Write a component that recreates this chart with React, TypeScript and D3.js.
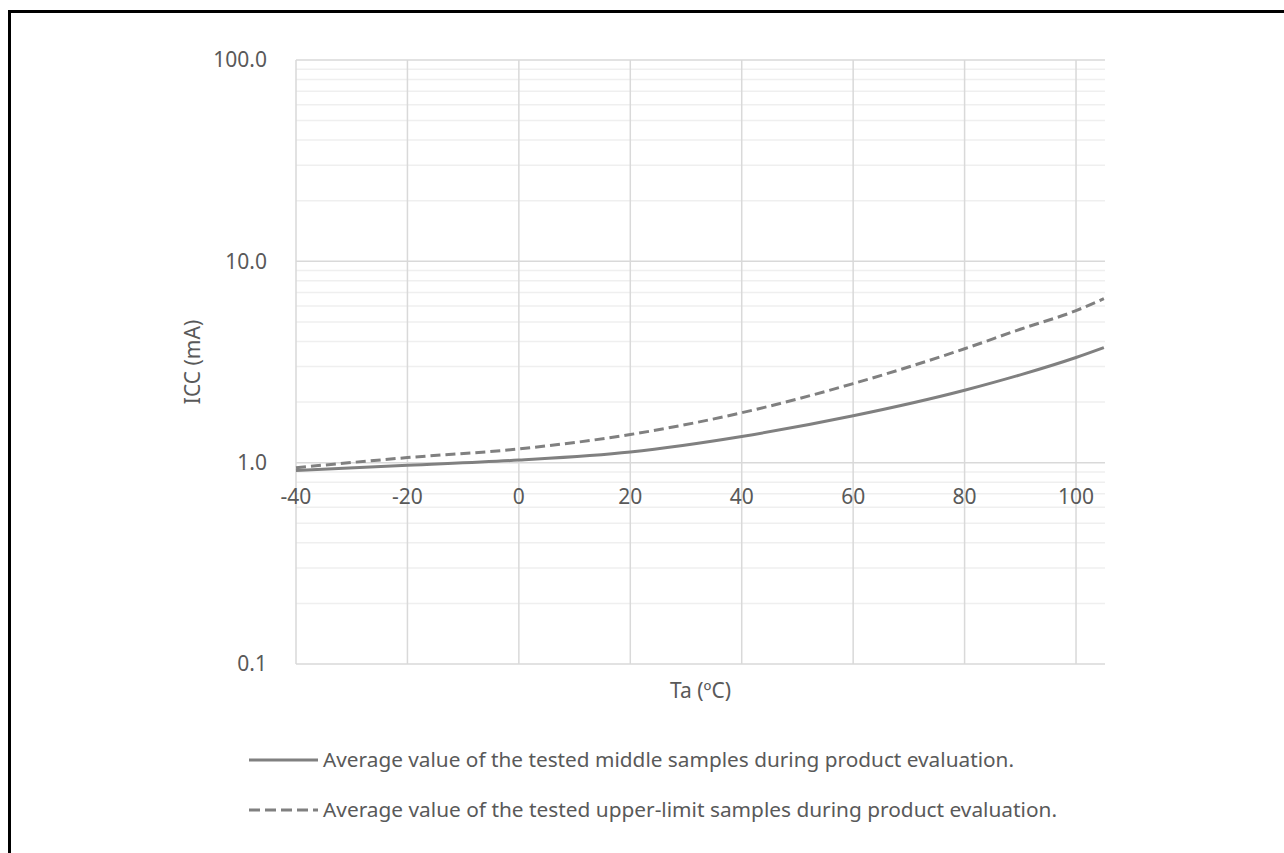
import React from "react";
import * as d3 from "d3";

const temps = [-40, -20, 0, 20, 40, 60, 80, 90, 100, 105];
const middleValues = [0.915, 0.97, 1.03, 1.13, 1.35, 1.71, 2.29, 2.73, 3.33, 3.73];
const upperValues = [0.944, 1.06, 1.17, 1.38, 1.77, 2.47, 3.68, 4.6, 5.69, 6.53];
const xTicks = [-40, -20, 0, 20, 40, 60, 80, 100];
const yMajor = [0.1, 1, 10, 100];
const yTickLabels = ["0.1", "1.0", "10.0", "100.0"];
const legendLabels = [
  "Average value of the tested middle samples during product evaluation.",
  "Average value of the tested upper-limit samples during product evaluation.",
];

const W = 1284;
const H = 853;
const M = { left: 296, right: 1105, top: 60, bottom: 664 };
const FONT = "'Noto Sans', sans-serif";
const TXT = "#595959";
const LINE = "#808080";

export default function App() {
  const x = d3.scaleLinear().domain([-40, 105.2]).range([M.left, M.right]);
  const y = d3.scaleLog().domain([0.1, 100]).range([M.bottom, M.top]);

  const minor: number[] = [];
  for (let d = 0.1; d < 100; d *= 10) {
    for (let k = 2; k <= 9; k++) minor.push(+(d * k).toFixed(3));
  }

  const line = d3
    .line<number>()
    .x((_, i) => x(temps[i]))
    .y((v) => y(v))
    .curve(d3.curveMonotoneX);

  return (
    <svg
      width={W}
      height={H}
      style={{ position: "absolute", left: 0, top: 0, background: "#fff" }}
    >
      <rect x={0} y={0} width={W} height={H} fill="#fff" />
      <rect x={9.5} y={11.5} width={1400} height={1000} fill="none" stroke="#000" strokeWidth={3} />

      {minor.map((v) => (
        <line key={"m" + v} x1={M.left} x2={M.right} y1={y(v)} y2={y(v)} stroke="#efefef" strokeWidth={1.5} />
      ))}
      {yMajor.map((v) => (
        <line key={"M" + v} x1={M.left} x2={M.right} y1={y(v)} y2={y(v)} stroke="#d9d9d9" strokeWidth={1.5} />
      ))}
      {xTicks.map((t) => (
        <line key={"v" + t} x1={x(t)} x2={x(t)} y1={M.top} y2={M.bottom} stroke="#d9d9d9" strokeWidth={1.5} />
      ))}

      {yMajor.map((v, i) => (
        <text
          key={"yl" + v}
          x={267}
          y={y(v)}
          dy="0.35em"
          textAnchor="end"
          fontFamily={FONT}
          fontSize={21}
          fill={TXT}
        >
          {yTickLabels[i]}
        </text>
      ))}
      {xTicks.map((t) => (
        <text
          key={"xl" + t}
          x={x(t)}
          y={504}
          textAnchor="middle"
          fontFamily={FONT}
          fontSize={21}
          fill={TXT}
        >
          {t}
        </text>
      ))}

      <text
        x={(M.left + M.right) / 2}
        y={698}
        textAnchor="middle"
        fontFamily={FONT}
        fontSize={21}
        fill={TXT}
      >
        Ta (ºC)
      </text>
      <text
        transform={`translate(200,362) rotate(-90)`}
        textAnchor="middle"
        fontFamily={FONT}
        fontSize={21}
        fill={TXT}
      >
        ICC (mA)
      </text>

      <path d={line(middleValues) || ""} fill="none" stroke={LINE} strokeWidth={3} />
      <path d={line(upperValues) || ""} fill="none" stroke={LINE} strokeWidth={3} strokeDasharray="10,5" />

      <line x1={249} x2={318} y1={760} y2={760} stroke={LINE} strokeWidth={3} />
      <line x1={249} x2={318} y1={810} y2={810} stroke={LINE} strokeWidth={3} strokeDasharray="11,5" />
      <text
        x={323}
        y={767}
        fontFamily={FONT}
        fontSize={20}
        fill={TXT}
        textLength={691}
        lengthAdjust="spacingAndGlyphs"
      >
        {legendLabels[0]}
      </text>
      <text
        x={323}
        y={817}
        fontFamily={FONT}
        fontSize={20}
        fill={TXT}
        textLength={734}
        lengthAdjust="spacingAndGlyphs"
      >
        {legendLabels[1]}
      </text>
    </svg>
  );
}
